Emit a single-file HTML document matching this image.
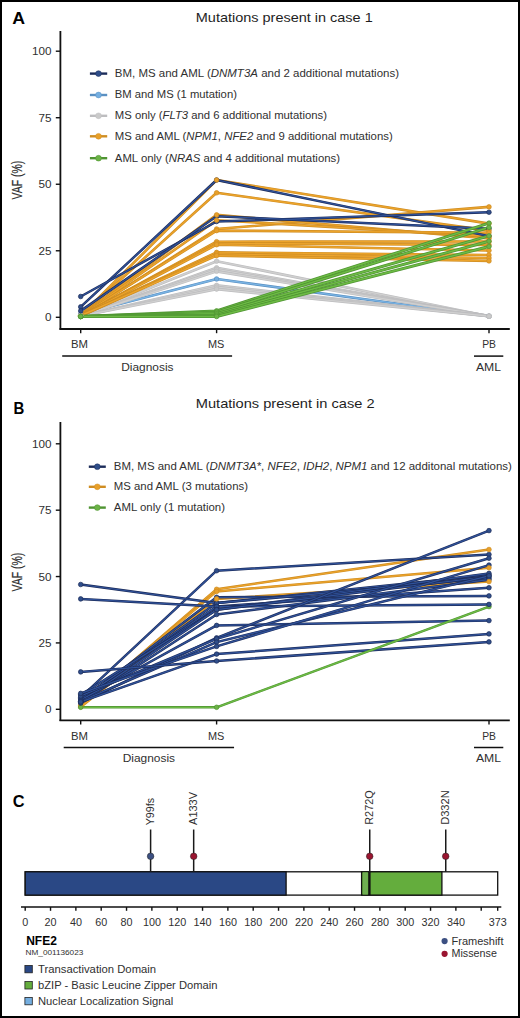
<!DOCTYPE html><html><head><meta charset="utf-8"><style>html,body{margin:0;padding:0;background:#fff;overflow:hidden;width:520px;height:1018px;}svg{display:block;font-family:"Liberation Sans", sans-serif;}</style></head><body>
<svg width="520" height="1018" viewBox="0 0 520 1018">
<rect x="0" y="0" width="520" height="1018" fill="#fff"/>
<text x="12.2" y="23.5" font-size="17.4" font-weight="bold" textLength="12.8" lengthAdjust="spacingAndGlyphs" fill="#000">A</text>
<text x="195.8" y="21.8" font-size="13.4" textLength="176.9" lengthAdjust="spacingAndGlyphs" fill="#1e1e1e">Mutations present in case 1</text>
<line x1="60.4" y1="31" x2="60.4" y2="329.8" stroke="#111" stroke-width="1.8"/>
<line x1="59.5" y1="329" x2="509.8" y2="329" stroke="#111" stroke-width="1.8"/>
<line x1="55.8" y1="317.3" x2="60" y2="317.3" stroke="#111" stroke-width="1.4"/>
<text x="51.6" y="321.3" font-size="11.7" text-anchor="end" fill="#303030">0</text>
<line x1="55.8" y1="250.775" x2="60" y2="250.775" stroke="#111" stroke-width="1.4"/>
<text x="51.6" y="254.775" font-size="11.7" text-anchor="end" fill="#303030">25</text>
<line x1="55.8" y1="184.25" x2="60" y2="184.25" stroke="#111" stroke-width="1.4"/>
<text x="51.6" y="188.25" font-size="11.7" text-anchor="end" fill="#303030">50</text>
<line x1="55.8" y1="117.72500000000002" x2="60" y2="117.72500000000002" stroke="#111" stroke-width="1.4"/>
<text x="51.6" y="121.72500000000002" font-size="11.7" text-anchor="end" fill="#303030">75</text>
<line x1="55.8" y1="51.19999999999999" x2="60" y2="51.19999999999999" stroke="#111" stroke-width="1.4"/>
<text x="51.6" y="55.19999999999999" font-size="11.7" text-anchor="end" fill="#303030">100</text>
<line x1="80.7" y1="329" x2="80.7" y2="333.2" stroke="#111" stroke-width="1.4"/>
<line x1="216.6" y1="329" x2="216.6" y2="333.2" stroke="#111" stroke-width="1.4"/>
<line x1="489.0" y1="329" x2="489.0" y2="333.2" stroke="#111" stroke-width="1.4"/>
<text x="79.4" y="347.9" font-size="11.3" text-anchor="middle" textLength="17" lengthAdjust="spacingAndGlyphs" fill="#303030">BM</text>
<text x="216.1" y="347.9" font-size="11.3" text-anchor="middle" textLength="16.4" lengthAdjust="spacingAndGlyphs" fill="#303030">MS</text>
<text x="489.1" y="347.9" font-size="11.3" text-anchor="middle" textLength="13.8" lengthAdjust="spacingAndGlyphs" fill="#303030">PB</text>
<line x1="62.2" y1="356.1" x2="232.1" y2="356.1" stroke="#111" stroke-width="1.5"/>
<line x1="474.0" y1="356.1" x2="503.3" y2="356.1" stroke="#111" stroke-width="1.5"/>
<text x="147.35" y="370.8" font-size="11.3" text-anchor="middle" textLength="52.3" lengthAdjust="spacingAndGlyphs" fill="#303030">Diagnosis</text>
<text x="488.45" y="370.8" font-size="11.3" text-anchor="middle" textLength="25.1" lengthAdjust="spacingAndGlyphs" fill="#303030">AML</text>
<text transform="translate(22.3,180.1) rotate(-90)" x="0" y="0" font-size="14" text-anchor="middle" textLength="38.6" lengthAdjust="spacingAndGlyphs" fill="#303030" stroke="#303030" stroke-width="0.2">VAF (%)</text>
<line x1="89.9" y1="73.6" x2="107.2" y2="73.6" stroke="#1c2c5a" stroke-width="2.4"/>
<circle cx="98.5" cy="73.6" r="2.9" fill="#2f4e8a" stroke="#1c2c5a" stroke-width="0.5"/>
<text x="114.8" y="77.0" font-size="10.4" textLength="284.2" lengthAdjust="spacingAndGlyphs" fill="#303030">BM, MS and AML (<tspan font-style="italic">DNMT3A</tspan> and 2 additional mutations)</text>
<line x1="89.9" y1="95.0" x2="107.2" y2="95.0" stroke="#5a90c2" stroke-width="2.4"/>
<circle cx="98.5" cy="95.0" r="2.9" fill="#74aee0" stroke="#5a90c2" stroke-width="0.5"/>
<text x="114.8" y="98.4" font-size="10.4" textLength="122.1" lengthAdjust="spacingAndGlyphs" fill="#303030">BM and MS (1 mutation)</text>
<line x1="89.9" y1="115.8" x2="107.2" y2="115.8" stroke="#bdbdbf" stroke-width="2.4"/>
<circle cx="98.5" cy="115.8" r="2.9" fill="#cacaca" stroke="#bdbdbf" stroke-width="0.5"/>
<text x="114.8" y="119.2" font-size="10.4" textLength="212.1" lengthAdjust="spacingAndGlyphs" fill="#303030">MS only (<tspan font-style="italic">FLT3</tspan> and 6 additional mutations)</text>
<line x1="89.9" y1="136.3" x2="107.2" y2="136.3" stroke="#cf8d22" stroke-width="2.4"/>
<circle cx="98.5" cy="136.3" r="2.9" fill="#e8a02a" stroke="#cf8d22" stroke-width="0.5"/>
<text x="114.8" y="139.70000000000002" font-size="10.4" textLength="277.9" lengthAdjust="spacingAndGlyphs" fill="#303030">MS and AML (<tspan font-style="italic">NPM1</tspan>, <tspan font-style="italic">NFE2</tspan> and 9 additional mutations)</text>
<line x1="89.9" y1="158.2" x2="107.2" y2="158.2" stroke="#4f9432" stroke-width="2.4"/>
<circle cx="98.5" cy="158.2" r="2.9" fill="#6cb347" stroke="#4f9432" stroke-width="0.5"/>
<text x="114.8" y="161.6" font-size="10.4" textLength="225.2" lengthAdjust="spacingAndGlyphs" fill="#303030">AML only (<tspan font-style="italic">NRAS</tspan> and 4 additional mutations)</text>
<polyline points="80.7,314.1 216.6,279.0 489.0,316.2" fill="none" stroke="#5a90c2" stroke-width="2.6" stroke-linejoin="round"/>
<polyline points="80.7,314.1 216.6,279.0 489.0,316.2" fill="none" stroke="#7ab4e4" stroke-width="1.30" stroke-linejoin="round"/>
<polyline points="80.7,316.0 216.6,261.2 489.0,316.2" fill="none" stroke="#bdbdbf" stroke-width="2.7" stroke-linejoin="round"/>
<polyline points="80.7,316.0 216.6,261.2 489.0,316.2" fill="none" stroke="#d0d0d0" stroke-width="1.35" stroke-linejoin="round"/>
<polyline points="80.7,316.0 216.6,267.8 489.0,316.2" fill="none" stroke="#bdbdbf" stroke-width="2.7" stroke-linejoin="round"/>
<polyline points="80.7,316.0 216.6,267.8 489.0,316.2" fill="none" stroke="#d0d0d0" stroke-width="1.35" stroke-linejoin="round"/>
<polyline points="80.7,316.0 216.6,269.4 489.0,316.2" fill="none" stroke="#bdbdbf" stroke-width="2.7" stroke-linejoin="round"/>
<polyline points="80.7,316.0 216.6,269.4 489.0,316.2" fill="none" stroke="#d0d0d0" stroke-width="1.35" stroke-linejoin="round"/>
<polyline points="80.7,316.0 216.6,271.3 489.0,316.2" fill="none" stroke="#bdbdbf" stroke-width="2.7" stroke-linejoin="round"/>
<polyline points="80.7,316.0 216.6,271.3 489.0,316.2" fill="none" stroke="#d0d0d0" stroke-width="1.35" stroke-linejoin="round"/>
<polyline points="80.7,316.0 216.6,285.4 489.0,316.2" fill="none" stroke="#bdbdbf" stroke-width="2.7" stroke-linejoin="round"/>
<polyline points="80.7,316.0 216.6,285.4 489.0,316.2" fill="none" stroke="#d0d0d0" stroke-width="1.35" stroke-linejoin="round"/>
<polyline points="80.7,316.0 216.6,287.2 489.0,316.2" fill="none" stroke="#bdbdbf" stroke-width="2.7" stroke-linejoin="round"/>
<polyline points="80.7,316.0 216.6,287.2 489.0,316.2" fill="none" stroke="#d0d0d0" stroke-width="1.35" stroke-linejoin="round"/>
<polyline points="80.7,316.0 216.6,289.1 489.0,316.2" fill="none" stroke="#bdbdbf" stroke-width="2.7" stroke-linejoin="round"/>
<polyline points="80.7,316.0 216.6,289.1 489.0,316.2" fill="none" stroke="#d0d0d0" stroke-width="1.35" stroke-linejoin="round"/>
<polyline points="80.7,315.7 216.6,180.0 489.0,223.6" fill="none" stroke="#cf8d22" stroke-width="2.6" stroke-linejoin="round"/>
<polyline points="80.7,315.7 216.6,180.0 489.0,223.6" fill="none" stroke="#eca42c" stroke-width="1.30" stroke-linejoin="round"/>
<polyline points="80.7,315.7 216.6,192.8 489.0,230.6" fill="none" stroke="#cf8d22" stroke-width="2.6" stroke-linejoin="round"/>
<polyline points="80.7,315.7 216.6,192.8 489.0,230.6" fill="none" stroke="#eca42c" stroke-width="1.30" stroke-linejoin="round"/>
<polyline points="80.7,316.0 216.6,229.0 489.0,206.9" fill="none" stroke="#cf8d22" stroke-width="2.6" stroke-linejoin="round"/>
<polyline points="80.7,316.0 216.6,229.0 489.0,206.9" fill="none" stroke="#eca42c" stroke-width="1.30" stroke-linejoin="round"/>
<polyline points="80.7,315.4 216.6,214.9 489.0,238.5" fill="none" stroke="#cf8d22" stroke-width="2.6" stroke-linejoin="round"/>
<polyline points="80.7,315.4 216.6,214.9 489.0,238.5" fill="none" stroke="#eca42c" stroke-width="1.30" stroke-linejoin="round"/>
<polyline points="80.7,316.0 216.6,220.2 489.0,236.4" fill="none" stroke="#cf8d22" stroke-width="2.6" stroke-linejoin="round"/>
<polyline points="80.7,316.0 216.6,220.2 489.0,236.4" fill="none" stroke="#eca42c" stroke-width="1.30" stroke-linejoin="round"/>
<polyline points="80.7,315.7 216.6,230.6 489.0,232.7" fill="none" stroke="#cf8d22" stroke-width="2.6" stroke-linejoin="round"/>
<polyline points="80.7,315.7 216.6,230.6 489.0,232.7" fill="none" stroke="#eca42c" stroke-width="1.30" stroke-linejoin="round"/>
<polyline points="80.7,316.0 216.6,241.7 489.0,241.5" fill="none" stroke="#cf8d22" stroke-width="2.6" stroke-linejoin="round"/>
<polyline points="80.7,316.0 216.6,241.7 489.0,241.5" fill="none" stroke="#eca42c" stroke-width="1.30" stroke-linejoin="round"/>
<polyline points="80.7,315.7 216.6,243.3 489.0,244.9" fill="none" stroke="#cf8d22" stroke-width="2.6" stroke-linejoin="round"/>
<polyline points="80.7,315.7 216.6,243.3 489.0,244.9" fill="none" stroke="#eca42c" stroke-width="1.30" stroke-linejoin="round"/>
<polyline points="80.7,316.0 216.6,244.7 489.0,250.5" fill="none" stroke="#cf8d22" stroke-width="2.6" stroke-linejoin="round"/>
<polyline points="80.7,316.0 216.6,244.7 489.0,250.5" fill="none" stroke="#eca42c" stroke-width="1.30" stroke-linejoin="round"/>
<polyline points="80.7,316.0 216.6,252.4 489.0,255.0" fill="none" stroke="#cf8d22" stroke-width="2.6" stroke-linejoin="round"/>
<polyline points="80.7,316.0 216.6,252.4 489.0,255.0" fill="none" stroke="#eca42c" stroke-width="1.30" stroke-linejoin="round"/>
<polyline points="80.7,316.0 216.6,254.0 489.0,258.0" fill="none" stroke="#cf8d22" stroke-width="2.6" stroke-linejoin="round"/>
<polyline points="80.7,316.0 216.6,254.0 489.0,258.0" fill="none" stroke="#eca42c" stroke-width="1.30" stroke-linejoin="round"/>
<polyline points="80.7,315.7 216.6,255.6 489.0,260.9" fill="none" stroke="#cf8d22" stroke-width="2.6" stroke-linejoin="round"/>
<polyline points="80.7,315.7 216.6,255.6 489.0,260.9" fill="none" stroke="#eca42c" stroke-width="1.30" stroke-linejoin="round"/>
<polyline points="80.7,306.9 216.6,180.0 489.0,236.1" fill="none" stroke="#1c2c5a" stroke-width="2.5" stroke-linejoin="round"/>
<polyline points="80.7,306.9 216.6,180.0 489.0,236.1" fill="none" stroke="#30529a" stroke-width="1.25" stroke-linejoin="round"/>
<polyline points="80.7,296.5 216.6,221.5 489.0,212.2" fill="none" stroke="#1c2c5a" stroke-width="2.5" stroke-linejoin="round"/>
<polyline points="80.7,296.5 216.6,221.5 489.0,212.2" fill="none" stroke="#30529a" stroke-width="1.25" stroke-linejoin="round"/>
<polyline points="80.7,310.9 216.6,216.2 489.0,228.7" fill="none" stroke="#1c2c5a" stroke-width="2.5" stroke-linejoin="round"/>
<polyline points="80.7,310.9 216.6,216.2 489.0,228.7" fill="none" stroke="#30529a" stroke-width="1.25" stroke-linejoin="round"/>
<polyline points="80.7,316.5 216.6,310.9 489.0,223.1" fill="none" stroke="#4f9432" stroke-width="3.0" stroke-linejoin="round"/>
<polyline points="80.7,316.5 216.6,310.9 489.0,223.1" fill="none" stroke="#6dbb45" stroke-width="1.50" stroke-linejoin="round"/>
<polyline points="80.7,316.5 216.6,312.2 489.0,227.4" fill="none" stroke="#4f9432" stroke-width="3.0" stroke-linejoin="round"/>
<polyline points="80.7,316.5 216.6,312.2 489.0,227.4" fill="none" stroke="#6dbb45" stroke-width="1.50" stroke-linejoin="round"/>
<polyline points="80.7,316.5 216.6,313.8 489.0,235.9" fill="none" stroke="#4f9432" stroke-width="3.0" stroke-linejoin="round"/>
<polyline points="80.7,316.5 216.6,313.8 489.0,235.9" fill="none" stroke="#6dbb45" stroke-width="1.50" stroke-linejoin="round"/>
<polyline points="80.7,316.5 216.6,315.2 489.0,241.2" fill="none" stroke="#4f9432" stroke-width="3.0" stroke-linejoin="round"/>
<polyline points="80.7,316.5 216.6,315.2 489.0,241.2" fill="none" stroke="#6dbb45" stroke-width="1.50" stroke-linejoin="round"/>
<polyline points="80.7,316.5 216.6,316.5 489.0,246.5" fill="none" stroke="#4f9432" stroke-width="3.0" stroke-linejoin="round"/>
<polyline points="80.7,316.5 216.6,316.5 489.0,246.5" fill="none" stroke="#6dbb45" stroke-width="1.50" stroke-linejoin="round"/>
<circle cx="80.7" cy="314.1" r="2.3" fill="#74aee0" stroke="#5a90c2" stroke-width="0.7"/>
<circle cx="216.6" cy="279.0" r="2.3" fill="#74aee0" stroke="#5a90c2" stroke-width="0.7"/>
<circle cx="489.0" cy="316.2" r="2.3" fill="#74aee0" stroke="#5a90c2" stroke-width="0.7"/>
<circle cx="80.7" cy="315.7" r="2.3" fill="#e8a02a" stroke="#cf8d22" stroke-width="0.7"/>
<circle cx="80.7" cy="315.7" r="2.3" fill="#e8a02a" stroke="#cf8d22" stroke-width="0.7"/>
<circle cx="80.7" cy="316.0" r="2.3" fill="#e8a02a" stroke="#cf8d22" stroke-width="0.7"/>
<circle cx="80.7" cy="315.4" r="2.3" fill="#e8a02a" stroke="#cf8d22" stroke-width="0.7"/>
<circle cx="80.7" cy="316.0" r="2.3" fill="#e8a02a" stroke="#cf8d22" stroke-width="0.7"/>
<circle cx="80.7" cy="315.7" r="2.3" fill="#e8a02a" stroke="#cf8d22" stroke-width="0.7"/>
<circle cx="80.7" cy="316.0" r="2.3" fill="#e8a02a" stroke="#cf8d22" stroke-width="0.7"/>
<circle cx="80.7" cy="315.7" r="2.3" fill="#e8a02a" stroke="#cf8d22" stroke-width="0.7"/>
<circle cx="80.7" cy="316.0" r="2.3" fill="#e8a02a" stroke="#cf8d22" stroke-width="0.7"/>
<circle cx="80.7" cy="316.0" r="2.3" fill="#e8a02a" stroke="#cf8d22" stroke-width="0.7"/>
<circle cx="80.7" cy="316.0" r="2.3" fill="#e8a02a" stroke="#cf8d22" stroke-width="0.7"/>
<circle cx="80.7" cy="315.7" r="2.3" fill="#e8a02a" stroke="#cf8d22" stroke-width="0.7"/>
<circle cx="80.7" cy="316.0" r="2.3" fill="#cacaca" stroke="#bdbdbf" stroke-width="0.7"/>
<circle cx="216.6" cy="261.2" r="2.3" fill="#cacaca" stroke="#bdbdbf" stroke-width="0.7"/>
<circle cx="489.0" cy="316.2" r="2.3" fill="#cacaca" stroke="#bdbdbf" stroke-width="0.7"/>
<circle cx="80.7" cy="316.0" r="2.3" fill="#cacaca" stroke="#bdbdbf" stroke-width="0.7"/>
<circle cx="216.6" cy="267.8" r="2.3" fill="#cacaca" stroke="#bdbdbf" stroke-width="0.7"/>
<circle cx="489.0" cy="316.2" r="2.3" fill="#cacaca" stroke="#bdbdbf" stroke-width="0.7"/>
<circle cx="80.7" cy="316.0" r="2.3" fill="#cacaca" stroke="#bdbdbf" stroke-width="0.7"/>
<circle cx="216.6" cy="269.4" r="2.3" fill="#cacaca" stroke="#bdbdbf" stroke-width="0.7"/>
<circle cx="489.0" cy="316.2" r="2.3" fill="#cacaca" stroke="#bdbdbf" stroke-width="0.7"/>
<circle cx="80.7" cy="316.0" r="2.3" fill="#cacaca" stroke="#bdbdbf" stroke-width="0.7"/>
<circle cx="216.6" cy="271.3" r="2.3" fill="#cacaca" stroke="#bdbdbf" stroke-width="0.7"/>
<circle cx="489.0" cy="316.2" r="2.3" fill="#cacaca" stroke="#bdbdbf" stroke-width="0.7"/>
<circle cx="80.7" cy="316.0" r="2.3" fill="#cacaca" stroke="#bdbdbf" stroke-width="0.7"/>
<circle cx="216.6" cy="285.4" r="2.3" fill="#cacaca" stroke="#bdbdbf" stroke-width="0.7"/>
<circle cx="489.0" cy="316.2" r="2.3" fill="#cacaca" stroke="#bdbdbf" stroke-width="0.7"/>
<circle cx="80.7" cy="316.0" r="2.3" fill="#cacaca" stroke="#bdbdbf" stroke-width="0.7"/>
<circle cx="216.6" cy="287.2" r="2.3" fill="#cacaca" stroke="#bdbdbf" stroke-width="0.7"/>
<circle cx="489.0" cy="316.2" r="2.3" fill="#cacaca" stroke="#bdbdbf" stroke-width="0.7"/>
<circle cx="80.7" cy="316.0" r="2.3" fill="#cacaca" stroke="#bdbdbf" stroke-width="0.7"/>
<circle cx="216.6" cy="289.1" r="2.3" fill="#cacaca" stroke="#bdbdbf" stroke-width="0.7"/>
<circle cx="489.0" cy="316.2" r="2.3" fill="#cacaca" stroke="#bdbdbf" stroke-width="0.7"/>
<circle cx="80.7" cy="306.9" r="2.3" fill="#2f4e8a" stroke="#1c2c5a" stroke-width="0.7"/>
<circle cx="216.6" cy="180.0" r="2.3" fill="#2f4e8a" stroke="#1c2c5a" stroke-width="0.7"/>
<circle cx="489.0" cy="236.1" r="2.3" fill="#2f4e8a" stroke="#1c2c5a" stroke-width="0.7"/>
<circle cx="80.7" cy="296.5" r="2.3" fill="#2f4e8a" stroke="#1c2c5a" stroke-width="0.7"/>
<circle cx="216.6" cy="221.5" r="2.3" fill="#2f4e8a" stroke="#1c2c5a" stroke-width="0.7"/>
<circle cx="489.0" cy="212.2" r="2.3" fill="#2f4e8a" stroke="#1c2c5a" stroke-width="0.7"/>
<circle cx="80.7" cy="310.9" r="2.3" fill="#2f4e8a" stroke="#1c2c5a" stroke-width="0.7"/>
<circle cx="216.6" cy="216.2" r="2.3" fill="#2f4e8a" stroke="#1c2c5a" stroke-width="0.7"/>
<circle cx="489.0" cy="228.7" r="2.3" fill="#2f4e8a" stroke="#1c2c5a" stroke-width="0.7"/>
<circle cx="216.6" cy="180.0" r="2.3" fill="#e8a02a" stroke="#cf8d22" stroke-width="0.7"/>
<circle cx="489.0" cy="223.6" r="2.3" fill="#e8a02a" stroke="#cf8d22" stroke-width="0.7"/>
<circle cx="216.6" cy="192.8" r="2.3" fill="#e8a02a" stroke="#cf8d22" stroke-width="0.7"/>
<circle cx="489.0" cy="230.6" r="2.3" fill="#e8a02a" stroke="#cf8d22" stroke-width="0.7"/>
<circle cx="216.6" cy="229.0" r="2.3" fill="#e8a02a" stroke="#cf8d22" stroke-width="0.7"/>
<circle cx="489.0" cy="206.9" r="2.3" fill="#e8a02a" stroke="#cf8d22" stroke-width="0.7"/>
<circle cx="216.6" cy="214.9" r="2.3" fill="#e8a02a" stroke="#cf8d22" stroke-width="0.7"/>
<circle cx="489.0" cy="238.5" r="2.3" fill="#e8a02a" stroke="#cf8d22" stroke-width="0.7"/>
<circle cx="216.6" cy="220.2" r="2.3" fill="#e8a02a" stroke="#cf8d22" stroke-width="0.7"/>
<circle cx="489.0" cy="236.4" r="2.3" fill="#e8a02a" stroke="#cf8d22" stroke-width="0.7"/>
<circle cx="216.6" cy="230.6" r="2.3" fill="#e8a02a" stroke="#cf8d22" stroke-width="0.7"/>
<circle cx="489.0" cy="232.7" r="2.3" fill="#e8a02a" stroke="#cf8d22" stroke-width="0.7"/>
<circle cx="216.6" cy="241.7" r="2.3" fill="#e8a02a" stroke="#cf8d22" stroke-width="0.7"/>
<circle cx="489.0" cy="241.5" r="2.3" fill="#e8a02a" stroke="#cf8d22" stroke-width="0.7"/>
<circle cx="216.6" cy="243.3" r="2.3" fill="#e8a02a" stroke="#cf8d22" stroke-width="0.7"/>
<circle cx="489.0" cy="244.9" r="2.3" fill="#e8a02a" stroke="#cf8d22" stroke-width="0.7"/>
<circle cx="216.6" cy="244.7" r="2.3" fill="#e8a02a" stroke="#cf8d22" stroke-width="0.7"/>
<circle cx="489.0" cy="250.5" r="2.3" fill="#e8a02a" stroke="#cf8d22" stroke-width="0.7"/>
<circle cx="216.6" cy="252.4" r="2.3" fill="#e8a02a" stroke="#cf8d22" stroke-width="0.7"/>
<circle cx="489.0" cy="255.0" r="2.3" fill="#e8a02a" stroke="#cf8d22" stroke-width="0.7"/>
<circle cx="216.6" cy="254.0" r="2.3" fill="#e8a02a" stroke="#cf8d22" stroke-width="0.7"/>
<circle cx="489.0" cy="258.0" r="2.3" fill="#e8a02a" stroke="#cf8d22" stroke-width="0.7"/>
<circle cx="216.6" cy="255.6" r="2.3" fill="#e8a02a" stroke="#cf8d22" stroke-width="0.7"/>
<circle cx="489.0" cy="260.9" r="2.3" fill="#e8a02a" stroke="#cf8d22" stroke-width="0.7"/>
<circle cx="80.7" cy="316.5" r="2.3" fill="#6cb347" stroke="#4f9432" stroke-width="0.7"/>
<circle cx="216.6" cy="310.9" r="2.3" fill="#6cb347" stroke="#4f9432" stroke-width="0.7"/>
<circle cx="489.0" cy="223.1" r="2.3" fill="#6cb347" stroke="#4f9432" stroke-width="0.7"/>
<circle cx="80.7" cy="316.5" r="2.3" fill="#6cb347" stroke="#4f9432" stroke-width="0.7"/>
<circle cx="216.6" cy="312.2" r="2.3" fill="#6cb347" stroke="#4f9432" stroke-width="0.7"/>
<circle cx="489.0" cy="227.4" r="2.3" fill="#6cb347" stroke="#4f9432" stroke-width="0.7"/>
<circle cx="80.7" cy="316.5" r="2.3" fill="#6cb347" stroke="#4f9432" stroke-width="0.7"/>
<circle cx="216.6" cy="313.8" r="2.3" fill="#6cb347" stroke="#4f9432" stroke-width="0.7"/>
<circle cx="489.0" cy="235.9" r="2.3" fill="#6cb347" stroke="#4f9432" stroke-width="0.7"/>
<circle cx="80.7" cy="316.5" r="2.3" fill="#6cb347" stroke="#4f9432" stroke-width="0.7"/>
<circle cx="216.6" cy="315.2" r="2.3" fill="#6cb347" stroke="#4f9432" stroke-width="0.7"/>
<circle cx="489.0" cy="241.2" r="2.3" fill="#6cb347" stroke="#4f9432" stroke-width="0.7"/>
<circle cx="80.7" cy="316.5" r="2.3" fill="#6cb347" stroke="#4f9432" stroke-width="0.7"/>
<circle cx="216.6" cy="316.5" r="2.3" fill="#6cb347" stroke="#4f9432" stroke-width="0.7"/>
<circle cx="489.0" cy="246.5" r="2.3" fill="#6cb347" stroke="#4f9432" stroke-width="0.7"/>
<text x="13.6" y="414.4" font-size="17.0" font-weight="bold" textLength="10.8" lengthAdjust="spacingAndGlyphs" fill="#000">B</text>
<text x="195.8" y="408.3" font-size="13.4" textLength="178.8" lengthAdjust="spacingAndGlyphs" fill="#1e1e1e">Mutations present in case 2</text>
<line x1="60.4" y1="422" x2="60.4" y2="721.0999999999999" stroke="#111" stroke-width="1.8"/>
<line x1="59.5" y1="720.3" x2="509.8" y2="720.3" stroke="#111" stroke-width="1.8"/>
<line x1="55.8" y1="709.3" x2="60" y2="709.3" stroke="#111" stroke-width="1.4"/>
<text x="51.6" y="713.3" font-size="11.7" text-anchor="end" fill="#303030">0</text>
<line x1="55.8" y1="642.925" x2="60" y2="642.925" stroke="#111" stroke-width="1.4"/>
<text x="51.6" y="646.925" font-size="11.7" text-anchor="end" fill="#303030">25</text>
<line x1="55.8" y1="576.55" x2="60" y2="576.55" stroke="#111" stroke-width="1.4"/>
<text x="51.6" y="580.55" font-size="11.7" text-anchor="end" fill="#303030">50</text>
<line x1="55.8" y1="510.17499999999995" x2="60" y2="510.17499999999995" stroke="#111" stroke-width="1.4"/>
<text x="51.6" y="514.175" font-size="11.7" text-anchor="end" fill="#303030">75</text>
<line x1="55.8" y1="443.79999999999995" x2="60" y2="443.79999999999995" stroke="#111" stroke-width="1.4"/>
<text x="51.6" y="447.79999999999995" font-size="11.7" text-anchor="end" fill="#303030">100</text>
<line x1="80.7" y1="720.3" x2="80.7" y2="724.5" stroke="#111" stroke-width="1.4"/>
<line x1="216.6" y1="720.3" x2="216.6" y2="724.5" stroke="#111" stroke-width="1.4"/>
<line x1="489.0" y1="720.3" x2="489.0" y2="724.5" stroke="#111" stroke-width="1.4"/>
<text x="79.4" y="739.8" font-size="11.3" text-anchor="middle" textLength="17" lengthAdjust="spacingAndGlyphs" fill="#303030">BM</text>
<text x="216.1" y="739.8" font-size="11.3" text-anchor="middle" textLength="16.4" lengthAdjust="spacingAndGlyphs" fill="#303030">MS</text>
<text x="489.1" y="739.8" font-size="11.3" text-anchor="middle" textLength="13.8" lengthAdjust="spacingAndGlyphs" fill="#303030">PB</text>
<line x1="63.7" y1="747.5" x2="234.04999999999998" y2="747.5" stroke="#111" stroke-width="1.5"/>
<line x1="474.0" y1="747.5" x2="503.3" y2="747.5" stroke="#111" stroke-width="1.5"/>
<text x="148.85" y="762.3" font-size="11.3" text-anchor="middle" textLength="52.3" lengthAdjust="spacingAndGlyphs" fill="#303030">Diagnosis</text>
<text x="488.45" y="762.3" font-size="11.3" text-anchor="middle" textLength="25.1" lengthAdjust="spacingAndGlyphs" fill="#303030">AML</text>
<text transform="translate(22.3,572.1) rotate(-90)" x="0" y="0" font-size="14" text-anchor="middle" textLength="38.6" lengthAdjust="spacingAndGlyphs" fill="#303030" stroke="#303030" stroke-width="0.2">VAF (%)</text>
<line x1="88.8" y1="466.7" x2="105.8" y2="466.7" stroke="#1c2c5a" stroke-width="2.4"/>
<circle cx="97.3" cy="466.7" r="2.9" fill="#2f4e8a" stroke="#1c2c5a" stroke-width="0.5"/>
<text x="113.8" y="470.09999999999997" font-size="10.4" textLength="398.1" lengthAdjust="spacingAndGlyphs" fill="#303030">BM, MS and AML (<tspan font-style="italic">DNMT3A*</tspan>, <tspan font-style="italic">NFE2</tspan>, <tspan font-style="italic">IDH2</tspan>, <tspan font-style="italic">NPM1</tspan> and 12 additonal mutations)</text>
<line x1="88.8" y1="486.8" x2="105.8" y2="486.8" stroke="#cf8d22" stroke-width="2.4"/>
<circle cx="97.3" cy="486.8" r="2.9" fill="#e8a02a" stroke="#cf8d22" stroke-width="0.5"/>
<text x="113.8" y="490.2" font-size="10.4" textLength="134.2" lengthAdjust="spacingAndGlyphs" fill="#303030">MS and AML (3 mutations)</text>
<line x1="88.8" y1="507.6" x2="105.8" y2="507.6" stroke="#4f9432" stroke-width="2.4"/>
<circle cx="97.3" cy="507.6" r="2.9" fill="#6cb347" stroke="#4f9432" stroke-width="0.5"/>
<text x="113.8" y="511.0" font-size="10.4" textLength="111.2" lengthAdjust="spacingAndGlyphs" fill="#303030">AML only (1 mutation)</text>
<polyline points="80.7,706.1 216.6,589.3 489.0,549.5" fill="none" stroke="#cf8d22" stroke-width="2.5" stroke-linejoin="round"/>
<polyline points="80.7,706.1 216.6,589.3 489.0,549.5" fill="none" stroke="#eca42c" stroke-width="1.25" stroke-linejoin="round"/>
<polyline points="80.7,705.3 216.6,591.4 489.0,567.8" fill="none" stroke="#cf8d22" stroke-width="2.5" stroke-linejoin="round"/>
<polyline points="80.7,705.3 216.6,591.4 489.0,567.8" fill="none" stroke="#eca42c" stroke-width="1.25" stroke-linejoin="round"/>
<polyline points="80.7,706.9 216.6,598.9 489.0,581.6" fill="none" stroke="#cf8d22" stroke-width="2.5" stroke-linejoin="round"/>
<polyline points="80.7,706.9 216.6,598.9 489.0,581.6" fill="none" stroke="#eca42c" stroke-width="1.25" stroke-linejoin="round"/>
<polyline points="80.7,697.4 216.6,570.7 489.0,554.5" fill="none" stroke="#1c2c5a" stroke-width="2.5" stroke-linejoin="round"/>
<polyline points="80.7,697.4 216.6,570.7 489.0,554.5" fill="none" stroke="#30529a" stroke-width="1.25" stroke-linejoin="round"/>
<polyline points="80.7,701.3 216.6,597.3 489.0,595.9" fill="none" stroke="#1c2c5a" stroke-width="2.5" stroke-linejoin="round"/>
<polyline points="80.7,701.3 216.6,597.3 489.0,595.9" fill="none" stroke="#30529a" stroke-width="1.25" stroke-linejoin="round"/>
<polyline points="80.7,584.5 216.6,603.1 489.0,575.0" fill="none" stroke="#1c2c5a" stroke-width="2.5" stroke-linejoin="round"/>
<polyline points="80.7,584.5 216.6,603.1 489.0,575.0" fill="none" stroke="#30529a" stroke-width="1.25" stroke-linejoin="round"/>
<polyline points="80.7,700.0 216.6,603.1 489.0,578.1" fill="none" stroke="#1c2c5a" stroke-width="2.5" stroke-linejoin="round"/>
<polyline points="80.7,700.0 216.6,603.1 489.0,578.1" fill="none" stroke="#30529a" stroke-width="1.25" stroke-linejoin="round"/>
<polyline points="80.7,598.9 216.6,606.6 489.0,587.7" fill="none" stroke="#1c2c5a" stroke-width="2.5" stroke-linejoin="round"/>
<polyline points="80.7,598.9 216.6,606.6 489.0,587.7" fill="none" stroke="#30529a" stroke-width="1.25" stroke-linejoin="round"/>
<polyline points="80.7,698.7 216.6,606.6 489.0,604.4" fill="none" stroke="#1c2c5a" stroke-width="2.5" stroke-linejoin="round"/>
<polyline points="80.7,698.7 216.6,606.6 489.0,604.4" fill="none" stroke="#30529a" stroke-width="1.25" stroke-linejoin="round"/>
<polyline points="80.7,694.7 216.6,609.7 489.0,573.4" fill="none" stroke="#1c2c5a" stroke-width="2.5" stroke-linejoin="round"/>
<polyline points="80.7,694.7 216.6,609.7 489.0,573.4" fill="none" stroke="#30529a" stroke-width="1.25" stroke-linejoin="round"/>
<polyline points="80.7,701.3 216.6,609.7 489.0,576.5" fill="none" stroke="#1c2c5a" stroke-width="2.5" stroke-linejoin="round"/>
<polyline points="80.7,701.3 216.6,609.7 489.0,576.5" fill="none" stroke="#30529a" stroke-width="1.25" stroke-linejoin="round"/>
<polyline points="80.7,702.7 216.6,614.5 489.0,579.7" fill="none" stroke="#1c2c5a" stroke-width="2.5" stroke-linejoin="round"/>
<polyline points="80.7,702.7 216.6,614.5 489.0,579.7" fill="none" stroke="#30529a" stroke-width="1.25" stroke-linejoin="round"/>
<polyline points="80.7,700.0 216.6,625.4 489.0,620.6" fill="none" stroke="#1c2c5a" stroke-width="2.5" stroke-linejoin="round"/>
<polyline points="80.7,700.0 216.6,625.4 489.0,620.6" fill="none" stroke="#30529a" stroke-width="1.25" stroke-linejoin="round"/>
<polyline points="80.7,702.9 216.6,637.9 489.0,530.6" fill="none" stroke="#1c2c5a" stroke-width="2.5" stroke-linejoin="round"/>
<polyline points="80.7,702.9 216.6,637.9 489.0,530.6" fill="none" stroke="#30529a" stroke-width="1.25" stroke-linejoin="round"/>
<polyline points="80.7,696.0 216.6,638.9 489.0,558.2" fill="none" stroke="#1c2c5a" stroke-width="2.5" stroke-linejoin="round"/>
<polyline points="80.7,696.0 216.6,638.9 489.0,558.2" fill="none" stroke="#30529a" stroke-width="1.25" stroke-linejoin="round"/>
<polyline points="80.7,701.3 216.6,642.1 489.0,575.8" fill="none" stroke="#1c2c5a" stroke-width="2.5" stroke-linejoin="round"/>
<polyline points="80.7,701.3 216.6,642.1 489.0,575.8" fill="none" stroke="#30529a" stroke-width="1.25" stroke-linejoin="round"/>
<polyline points="80.7,693.4 216.6,646.4 489.0,565.1" fill="none" stroke="#1c2c5a" stroke-width="2.5" stroke-linejoin="round"/>
<polyline points="80.7,693.4 216.6,646.4 489.0,565.1" fill="none" stroke="#30529a" stroke-width="1.25" stroke-linejoin="round"/>
<polyline points="80.7,701.9 216.6,654.1 489.0,633.9" fill="none" stroke="#1c2c5a" stroke-width="2.5" stroke-linejoin="round"/>
<polyline points="80.7,701.9 216.6,654.1 489.0,633.9" fill="none" stroke="#30529a" stroke-width="1.25" stroke-linejoin="round"/>
<polyline points="80.7,671.9 216.6,661.0 489.0,641.9" fill="none" stroke="#1c2c5a" stroke-width="2.5" stroke-linejoin="round"/>
<polyline points="80.7,671.9 216.6,661.0 489.0,641.9" fill="none" stroke="#30529a" stroke-width="1.25" stroke-linejoin="round"/>
<polyline points="80.7,707.3 216.6,707.3 489.0,606.6" fill="none" stroke="#4f9432" stroke-width="2.5" stroke-linejoin="round"/>
<polyline points="80.7,707.3 216.6,707.3 489.0,606.6" fill="none" stroke="#6dbb45" stroke-width="1.25" stroke-linejoin="round"/>
<circle cx="80.7" cy="706.1" r="2.3" fill="#e8a02a" stroke="#cf8d22" stroke-width="0.7"/>
<circle cx="80.7" cy="705.3" r="2.3" fill="#e8a02a" stroke="#cf8d22" stroke-width="0.7"/>
<circle cx="80.7" cy="706.9" r="2.3" fill="#e8a02a" stroke="#cf8d22" stroke-width="0.7"/>
<circle cx="80.7" cy="707.3" r="2.3" fill="#6cb347" stroke="#4f9432" stroke-width="0.7"/>
<circle cx="216.6" cy="707.3" r="2.3" fill="#6cb347" stroke="#4f9432" stroke-width="0.7"/>
<circle cx="489.0" cy="606.6" r="2.3" fill="#6cb347" stroke="#4f9432" stroke-width="0.7"/>
<circle cx="80.7" cy="697.4" r="2.3" fill="#2f4e8a" stroke="#1c2c5a" stroke-width="0.7"/>
<circle cx="216.6" cy="570.7" r="2.3" fill="#2f4e8a" stroke="#1c2c5a" stroke-width="0.7"/>
<circle cx="489.0" cy="554.5" r="2.3" fill="#2f4e8a" stroke="#1c2c5a" stroke-width="0.7"/>
<circle cx="80.7" cy="701.3" r="2.3" fill="#2f4e8a" stroke="#1c2c5a" stroke-width="0.7"/>
<circle cx="216.6" cy="597.3" r="2.3" fill="#2f4e8a" stroke="#1c2c5a" stroke-width="0.7"/>
<circle cx="489.0" cy="595.9" r="2.3" fill="#2f4e8a" stroke="#1c2c5a" stroke-width="0.7"/>
<circle cx="80.7" cy="584.5" r="2.3" fill="#2f4e8a" stroke="#1c2c5a" stroke-width="0.7"/>
<circle cx="216.6" cy="603.1" r="2.3" fill="#2f4e8a" stroke="#1c2c5a" stroke-width="0.7"/>
<circle cx="489.0" cy="575.0" r="2.3" fill="#2f4e8a" stroke="#1c2c5a" stroke-width="0.7"/>
<circle cx="80.7" cy="700.0" r="2.3" fill="#2f4e8a" stroke="#1c2c5a" stroke-width="0.7"/>
<circle cx="216.6" cy="603.1" r="2.3" fill="#2f4e8a" stroke="#1c2c5a" stroke-width="0.7"/>
<circle cx="489.0" cy="578.1" r="2.3" fill="#2f4e8a" stroke="#1c2c5a" stroke-width="0.7"/>
<circle cx="80.7" cy="598.9" r="2.3" fill="#2f4e8a" stroke="#1c2c5a" stroke-width="0.7"/>
<circle cx="216.6" cy="606.6" r="2.3" fill="#2f4e8a" stroke="#1c2c5a" stroke-width="0.7"/>
<circle cx="489.0" cy="587.7" r="2.3" fill="#2f4e8a" stroke="#1c2c5a" stroke-width="0.7"/>
<circle cx="80.7" cy="698.7" r="2.3" fill="#2f4e8a" stroke="#1c2c5a" stroke-width="0.7"/>
<circle cx="216.6" cy="606.6" r="2.3" fill="#2f4e8a" stroke="#1c2c5a" stroke-width="0.7"/>
<circle cx="489.0" cy="604.4" r="2.3" fill="#2f4e8a" stroke="#1c2c5a" stroke-width="0.7"/>
<circle cx="80.7" cy="694.7" r="2.3" fill="#2f4e8a" stroke="#1c2c5a" stroke-width="0.7"/>
<circle cx="216.6" cy="609.7" r="2.3" fill="#2f4e8a" stroke="#1c2c5a" stroke-width="0.7"/>
<circle cx="489.0" cy="573.4" r="2.3" fill="#2f4e8a" stroke="#1c2c5a" stroke-width="0.7"/>
<circle cx="80.7" cy="701.3" r="2.3" fill="#2f4e8a" stroke="#1c2c5a" stroke-width="0.7"/>
<circle cx="216.6" cy="609.7" r="2.3" fill="#2f4e8a" stroke="#1c2c5a" stroke-width="0.7"/>
<circle cx="489.0" cy="576.5" r="2.3" fill="#2f4e8a" stroke="#1c2c5a" stroke-width="0.7"/>
<circle cx="80.7" cy="702.7" r="2.3" fill="#2f4e8a" stroke="#1c2c5a" stroke-width="0.7"/>
<circle cx="216.6" cy="614.5" r="2.3" fill="#2f4e8a" stroke="#1c2c5a" stroke-width="0.7"/>
<circle cx="489.0" cy="579.7" r="2.3" fill="#2f4e8a" stroke="#1c2c5a" stroke-width="0.7"/>
<circle cx="80.7" cy="700.0" r="2.3" fill="#2f4e8a" stroke="#1c2c5a" stroke-width="0.7"/>
<circle cx="216.6" cy="625.4" r="2.3" fill="#2f4e8a" stroke="#1c2c5a" stroke-width="0.7"/>
<circle cx="489.0" cy="620.6" r="2.3" fill="#2f4e8a" stroke="#1c2c5a" stroke-width="0.7"/>
<circle cx="80.7" cy="702.9" r="2.3" fill="#2f4e8a" stroke="#1c2c5a" stroke-width="0.7"/>
<circle cx="216.6" cy="637.9" r="2.3" fill="#2f4e8a" stroke="#1c2c5a" stroke-width="0.7"/>
<circle cx="489.0" cy="530.6" r="2.3" fill="#2f4e8a" stroke="#1c2c5a" stroke-width="0.7"/>
<circle cx="80.7" cy="696.0" r="2.3" fill="#2f4e8a" stroke="#1c2c5a" stroke-width="0.7"/>
<circle cx="216.6" cy="638.9" r="2.3" fill="#2f4e8a" stroke="#1c2c5a" stroke-width="0.7"/>
<circle cx="489.0" cy="558.2" r="2.3" fill="#2f4e8a" stroke="#1c2c5a" stroke-width="0.7"/>
<circle cx="80.7" cy="701.3" r="2.3" fill="#2f4e8a" stroke="#1c2c5a" stroke-width="0.7"/>
<circle cx="216.6" cy="642.1" r="2.3" fill="#2f4e8a" stroke="#1c2c5a" stroke-width="0.7"/>
<circle cx="489.0" cy="575.8" r="2.3" fill="#2f4e8a" stroke="#1c2c5a" stroke-width="0.7"/>
<circle cx="80.7" cy="693.4" r="2.3" fill="#2f4e8a" stroke="#1c2c5a" stroke-width="0.7"/>
<circle cx="216.6" cy="646.4" r="2.3" fill="#2f4e8a" stroke="#1c2c5a" stroke-width="0.7"/>
<circle cx="489.0" cy="565.1" r="2.3" fill="#2f4e8a" stroke="#1c2c5a" stroke-width="0.7"/>
<circle cx="80.7" cy="701.9" r="2.3" fill="#2f4e8a" stroke="#1c2c5a" stroke-width="0.7"/>
<circle cx="216.6" cy="654.1" r="2.3" fill="#2f4e8a" stroke="#1c2c5a" stroke-width="0.7"/>
<circle cx="489.0" cy="633.9" r="2.3" fill="#2f4e8a" stroke="#1c2c5a" stroke-width="0.7"/>
<circle cx="80.7" cy="671.9" r="2.3" fill="#2f4e8a" stroke="#1c2c5a" stroke-width="0.7"/>
<circle cx="216.6" cy="661.0" r="2.3" fill="#2f4e8a" stroke="#1c2c5a" stroke-width="0.7"/>
<circle cx="489.0" cy="641.9" r="2.3" fill="#2f4e8a" stroke="#1c2c5a" stroke-width="0.7"/>
<circle cx="216.6" cy="589.3" r="2.3" fill="#e8a02a" stroke="#cf8d22" stroke-width="0.7"/>
<circle cx="489.0" cy="549.5" r="2.3" fill="#e8a02a" stroke="#cf8d22" stroke-width="0.7"/>
<circle cx="216.6" cy="591.4" r="2.3" fill="#e8a02a" stroke="#cf8d22" stroke-width="0.7"/>
<circle cx="489.0" cy="567.8" r="2.3" fill="#e8a02a" stroke="#cf8d22" stroke-width="0.7"/>
<circle cx="216.6" cy="598.9" r="2.3" fill="#e8a02a" stroke="#cf8d22" stroke-width="0.7"/>
<circle cx="489.0" cy="581.6" r="2.3" fill="#e8a02a" stroke="#cf8d22" stroke-width="0.7"/>
<text x="12.8" y="807.0" font-size="17.0" font-weight="bold" textLength="11.8" lengthAdjust="spacingAndGlyphs" fill="#000">C</text>
<rect x="25.2" y="871.8" width="472.5" height="23.300000000000068" fill="#fff" stroke="#111" stroke-width="1.3"/>
<rect x="25.2" y="871.8" width="260.9" height="23.300000000000068" fill="#2a4885" stroke="#111" stroke-width="1.3"/>
<rect x="361.6" y="871.8" width="80.3" height="23.300000000000068" fill="#64ad3d" stroke="#111" stroke-width="1.3"/>
<rect x="362.9" y="872.4" width="4.9" height="22.10000000000007" fill="#6fae52"/>
<line x1="369.4" y1="871.8" x2="369.4" y2="895.1" stroke="#111" stroke-width="2.4"/>
<line x1="21" y1="907" x2="501.3" y2="907" stroke="#111" stroke-width="1.6"/>
<line x1="25.2" y1="907" x2="25.2" y2="910.8" stroke="#111" stroke-width="1.4"/>
<text x="25.2" y="926" font-size="10.8" text-anchor="middle" fill="#303030">0</text>
<line x1="50.534" y1="907" x2="50.534" y2="910.8" stroke="#111" stroke-width="1.4"/>
<text x="50.5" y="926" font-size="10.8" text-anchor="middle" fill="#303030">20</text>
<line x1="75.868" y1="907" x2="75.868" y2="910.8" stroke="#111" stroke-width="1.4"/>
<text x="75.9" y="926" font-size="10.8" text-anchor="middle" fill="#303030">40</text>
<line x1="101.202" y1="907" x2="101.202" y2="910.8" stroke="#111" stroke-width="1.4"/>
<text x="101.2" y="926" font-size="10.8" text-anchor="middle" fill="#303030">60</text>
<line x1="126.536" y1="907" x2="126.536" y2="910.8" stroke="#111" stroke-width="1.4"/>
<text x="126.5" y="926" font-size="10.8" text-anchor="middle" fill="#303030">80</text>
<line x1="151.86999999999998" y1="907" x2="151.86999999999998" y2="910.8" stroke="#111" stroke-width="1.4"/>
<text x="151.9" y="926" font-size="10.8" text-anchor="middle" fill="#303030">100</text>
<line x1="177.20399999999998" y1="907" x2="177.20399999999998" y2="910.8" stroke="#111" stroke-width="1.4"/>
<text x="177.2" y="926" font-size="10.8" text-anchor="middle" fill="#303030">120</text>
<line x1="202.53799999999998" y1="907" x2="202.53799999999998" y2="910.8" stroke="#111" stroke-width="1.4"/>
<text x="202.5" y="926" font-size="10.8" text-anchor="middle" fill="#303030">140</text>
<line x1="227.87199999999999" y1="907" x2="227.87199999999999" y2="910.8" stroke="#111" stroke-width="1.4"/>
<text x="227.9" y="926" font-size="10.8" text-anchor="middle" fill="#303030">160</text>
<line x1="253.206" y1="907" x2="253.206" y2="910.8" stroke="#111" stroke-width="1.4"/>
<text x="253.2" y="926" font-size="10.8" text-anchor="middle" fill="#303030">180</text>
<line x1="278.53999999999996" y1="907" x2="278.53999999999996" y2="910.8" stroke="#111" stroke-width="1.4"/>
<text x="278.5" y="926" font-size="10.8" text-anchor="middle" fill="#303030">200</text>
<line x1="303.87399999999997" y1="907" x2="303.87399999999997" y2="910.8" stroke="#111" stroke-width="1.4"/>
<text x="303.9" y="926" font-size="10.8" text-anchor="middle" fill="#303030">220</text>
<line x1="329.20799999999997" y1="907" x2="329.20799999999997" y2="910.8" stroke="#111" stroke-width="1.4"/>
<text x="329.2" y="926" font-size="10.8" text-anchor="middle" fill="#303030">240</text>
<line x1="354.542" y1="907" x2="354.542" y2="910.8" stroke="#111" stroke-width="1.4"/>
<text x="354.5" y="926" font-size="10.8" text-anchor="middle" fill="#303030">260</text>
<line x1="379.876" y1="907" x2="379.876" y2="910.8" stroke="#111" stroke-width="1.4"/>
<text x="379.9" y="926" font-size="10.8" text-anchor="middle" fill="#303030">280</text>
<line x1="405.21" y1="907" x2="405.21" y2="910.8" stroke="#111" stroke-width="1.4"/>
<text x="405.2" y="926" font-size="10.8" text-anchor="middle" fill="#303030">300</text>
<line x1="430.544" y1="907" x2="430.544" y2="910.8" stroke="#111" stroke-width="1.4"/>
<text x="430.5" y="926" font-size="10.8" text-anchor="middle" fill="#303030">320</text>
<line x1="455.878" y1="907" x2="455.878" y2="910.8" stroke="#111" stroke-width="1.4"/>
<text x="455.9" y="926" font-size="10.8" text-anchor="middle" fill="#303030">340</text>
<line x1="481.212" y1="907" x2="481.212" y2="910.8" stroke="#111" stroke-width="1.4"/>
<line x1="497.67909999999995" y1="907" x2="497.67909999999995" y2="910.8" stroke="#111" stroke-width="1.4"/>
<text x="497.7" y="926" font-size="10.8" text-anchor="middle" fill="#303030">373</text>
<line x1="150.6033" y1="829.5" x2="150.6033" y2="871.8" stroke="#1a1a1a" stroke-width="1.5"/>
<circle cx="150.6" cy="856.3" r="3.3" fill="#3c5082" stroke="#222" stroke-width="0.5"/>
<text transform="translate(153.6,825.3) rotate(-90)" x="0" y="0" font-size="11.6" textLength="27.4" lengthAdjust="spacingAndGlyphs" fill="#303030">Y99fs</text>
<line x1="193.67109999999997" y1="829.5" x2="193.67109999999997" y2="871.8" stroke="#1a1a1a" stroke-width="1.5"/>
<circle cx="193.7" cy="856.3" r="3.3" fill="#9a1530" stroke="#222" stroke-width="0.5"/>
<text transform="translate(197.1,824.9) rotate(-90)" x="0" y="0" font-size="11.6" textLength="32.9" lengthAdjust="spacingAndGlyphs" fill="#303030">A133V</text>
<line x1="369.7424" y1="829.5" x2="369.7424" y2="871.8" stroke="#1a1a1a" stroke-width="1.5"/>
<circle cx="369.7" cy="856.3" r="3.3" fill="#9a1530" stroke="#222" stroke-width="0.5"/>
<text transform="translate(372.8,824.7) rotate(-90)" x="0" y="0" font-size="11.6" textLength="34.3" lengthAdjust="spacingAndGlyphs" fill="#303030">R272Q</text>
<line x1="445.7444" y1="829.5" x2="445.7444" y2="871.8" stroke="#1a1a1a" stroke-width="1.5"/>
<circle cx="445.7" cy="856.3" r="3.3" fill="#9a1530" stroke="#222" stroke-width="0.5"/>
<text transform="translate(449.0,824.8) rotate(-90)" x="0" y="0" font-size="11.6" textLength="34.5" lengthAdjust="spacingAndGlyphs" fill="#303030">D332N</text>
<text x="26.2" y="944.8" font-size="12" font-weight="bold" textLength="30.7" lengthAdjust="spacingAndGlyphs" fill="#000">NFE2</text>
<text x="25.6" y="954.8" font-size="8.1" textLength="57.7" lengthAdjust="spacingAndGlyphs" fill="#303030">NM_001136023</text>
<rect x="24.9" y="965.4" width="7.4" height="7.4" fill="#2a4885" stroke="#222" stroke-width="0.8"/>
<text x="38.0" y="973.1" font-size="11" textLength="118.1" lengthAdjust="spacingAndGlyphs" fill="#303030">Transactivation Domain</text>
<rect x="24.9" y="981.6" width="7.4" height="7.4" fill="#64ad3d" stroke="#222" stroke-width="0.8"/>
<text x="38.0" y="989.3000000000001" font-size="11" textLength="179.5" lengthAdjust="spacingAndGlyphs" fill="#303030">bZIP - Basic Leucine Zipper Domain</text>
<rect x="24.9" y="997.4" width="7.4" height="7.4" fill="#74aee0" stroke="#222" stroke-width="0.8"/>
<text x="38.0" y="1005.1" font-size="11" textLength="135.2" lengthAdjust="spacingAndGlyphs" fill="#303030">Nuclear Localization Signal</text>
<circle cx="444.6" cy="941.1" r="3.1" fill="#3c5082"/>
<circle cx="444.6" cy="953.8" r="3.1" fill="#9a1530"/>
<text x="451.5" y="944.6" font-size="11" textLength="52.0" lengthAdjust="spacingAndGlyphs" fill="#303030">Frameshift</text>
<text x="451.5" y="956.9" font-size="11" textLength="45.4" lengthAdjust="spacingAndGlyphs" fill="#303030">Missense</text>
<rect x="1" y="1" width="518" height="1016" fill="none" stroke="#000" stroke-width="2"/>
</svg></body></html>
